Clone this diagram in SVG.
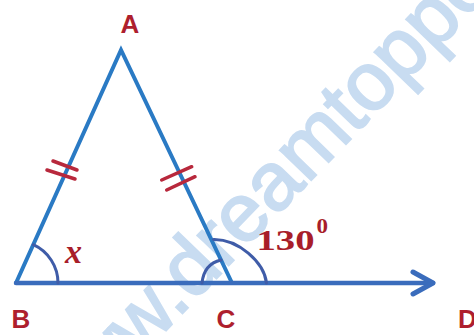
<svg xmlns="http://www.w3.org/2000/svg" width="474" height="335" viewBox="0 0 474 335">
  <style>
    .side { stroke: #2a7ac4; stroke-width: 4; fill: none; stroke-linecap: round; stroke-linejoin: miter; }
    .base { stroke: #3a6cbc; stroke-width: 4.5; fill: none; stroke-linecap: round; }
    .tick { stroke: #b8283c; stroke-width: 3.5; stroke-linecap: round; fill: none; }
    .arc { stroke: #3f5ca8; stroke-width: 3; fill: none; stroke-linecap: round; }
    .lbl { font-family: "Liberation Sans", Arial, sans-serif; font-weight: bold; font-size: 26px; fill: #ae1f2e; text-anchor: middle; }
    .ang { font-family: "Liberation Serif", "Times New Roman", serif; font-weight: bold; fill: #a81e2a; }
    .wm { font-family: "Liberation Sans", Arial, sans-serif; font-size: 82px; fill: #c8dcf1; stroke: #c8dcf1; stroke-width: 2; }
  </style>
  <defs>
    <marker id="arrow" markerUnits="userSpaceOnUse" markerWidth="30" markerHeight="30" refX="0" refY="0" viewBox="-24 -15 30 30" orient="auto" overflow="visible">
      <path d="M-20,-11 L0,0 L-20,11" fill="none" stroke="#3a6cbc" stroke-width="5" stroke-linecap="round" stroke-linejoin="round"/>
    </marker>
  </defs>

  <text class="wm" transform="translate(180,316) rotate(-46)" x="-177" y="0">www.dreamtoppers.com</text>

  <g id="connectors">
    <path class="side" d="M16,283 L121,50 L232,283"/>
    <path class="base" d="M16,283 L433,283" marker-end="url(#arrow)"/>
  </g>

  <g id="ticks">
    <path class="tick" d="M53,161 L77,170 M47,170 L75,179"/>
    <path class="tick" d="M161.7,180 L191.7,166.7 M166.7,190 L195,176.7"/>
  </g>

  <g id="angles">
    <path class="arc" d="M58,283 A42,42 0 0 0 33.3,244.7"/>
    <path class="arc" d="M202,283 Q204,264 221,260"/>
    <path class="arc" d="M213.5,239.5 C238,239 264,262 266.5,283"/>
    <text class="ang" x="65" y="263" font-style="italic" font-size="34">x</text>
    <text class="ang" font-size="30"><tspan x="256.5" y="250" textLength="58" lengthAdjust="spacingAndGlyphs">130</tspan><tspan x="316.5" y="233.3" font-size="20" textLength="11.5" lengthAdjust="spacingAndGlyphs">0</tspan></text>
  </g>

  <g id="node-A"><text class="lbl" x="130" y="32.5">A</text></g>
  <g id="node-B"><text class="lbl" x="21" y="328">B</text></g>
  <g id="node-C"><text class="lbl" x="226" y="328">C</text></g>
  <g id="node-D"><text class="lbl" x="467.5" y="328">D</text></g>
</svg>
